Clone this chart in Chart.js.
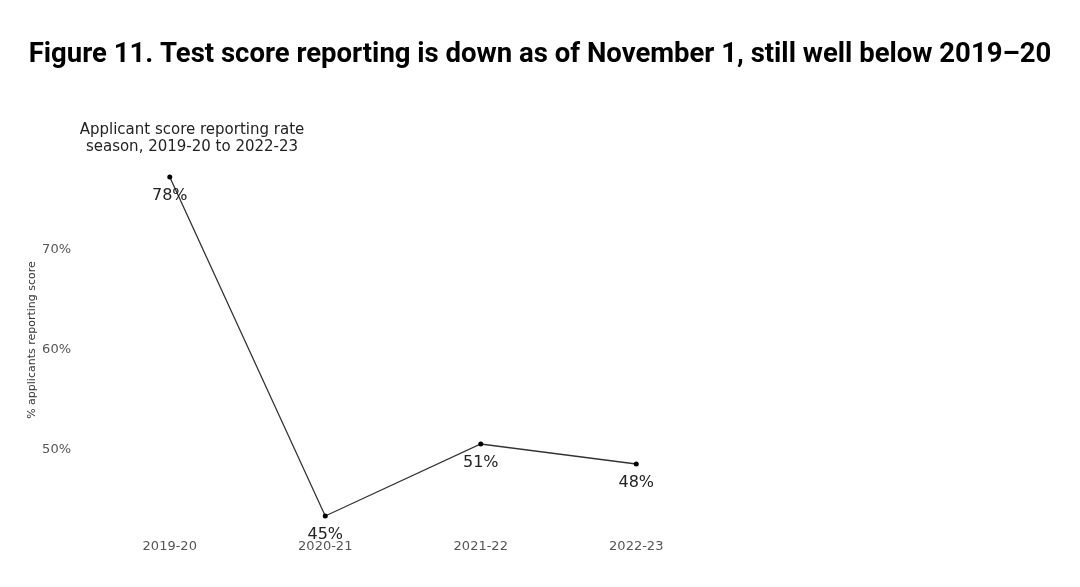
<!DOCTYPE html>
<html lang="en">
<head>
    <meta charset="UTF-8">
    <title>Figure 11</title>
    <script src="https://cdn.jsdelivr.net/npm/chart.js@4.4.0/dist/chart.umd.min.js"></script>
    <style>
        html, body { margin: 0; padding: 0; background: #fff; }
        .chart-container { position: relative; width: 1080px; height: 587px; }
    </style>
</head>
<body>
    <div class="chart-container">
        <canvas id="scoreChart" width="1080" height="587"></canvas>
    </div>

    <script>
        // Data
        const seasons = ['2019-20', '2020-21', '2021-22', '2022-23'];
        const reportingRate = [77.3, 43.4, 50.6, 48.6];
        const pointLabels = ['78%', '45%', '51%', '48%'];
        const yTicks = [50, 60, 70];

        const headline = 'Figure 11. Test score reporting is down as of November 1, still well below 2019\u201320';
        const subtitleLines = ['Applicant score reporting rate', 'season, 2019-20 to 2022-23'];

        // Headline, subtitle and point labels
        const annotate = {
            id: 'annotate',
            afterDraw(chart) {
                const ctx = chart.ctx;
                ctx.save();
                ctx.fillStyle = '#000';
                ctx.font = 'bold 27.5px Roboto';
                ctx.textAlign = 'center';
                ctx.textBaseline = 'middle';
                ctx.fillText(headline, 540, 55);

                ctx.fillStyle = '#222';
                ctx.font = '15px "DejaVu Sans"';
                subtitleLines.forEach((line, i) => ctx.fillText(line, 192, 130 + i * 17));

                const meta = chart.getDatasetMeta(0);
                ctx.font = '16px "DejaVu Sans"';
                meta.data.forEach((pt, i) => {
                    ctx.fillText(pointLabels[i], pt.x, pt.y + 19);
                });
                ctx.restore();
            }
        };

        const ctx = document.getElementById('scoreChart').getContext('2d');
        new Chart(ctx, {
            type: 'line',
            data: {
                labels: seasons,
                datasets: [{
                    data: reportingRate,
                    borderColor: '#333',
                    borderWidth: 1.3,
                    pointRadius: 2.5,
                    pointBackgroundColor: '#000',
                    pointBorderWidth: 0,
                    tension: 0
                }]
            },
            options: {
                responsive: false,
                animation: false,
                layout: { padding: { top: 150, left: 20, right: 366, bottom: 27 } },
                plugins: {
                    legend: { display: false },
                    tooltip: { enabled: false }
                },
                scales: {
                    x: {
                        offset: true,
                        grid: { display: false, drawTicks: false },
                        border: { display: false },
                        ticks: { color: '#555', font: { family: 'DejaVu Sans', size: 13 }, padding: 9, maxRotation: 0 },
                        afterFit: s => { s.height = 30; }
                    },
                    y: {
                        min: 42,
                        max: 80,
                        grid: { display: false, drawTicks: false },
                        border: { display: false },
                        afterBuildTicks: s => { s.ticks = yTicks.map(v => ({ value: v })); },
                        ticks: {
                            color: '#555',
                            font: { family: 'DejaVu Sans', size: 13 },
                            padding: 21,
                            callback: v => v + '%'
                        },
                        title: {
                            display: true,
                            text: '% applicants reporting score',
                            color: '#333',
                            font: { family: 'DejaVu Sans', size: 11 },
                            padding: { top: 6, bottom: 0 }
                        },
                        afterFit: s => { s.width = 72; }
                    }
                }
            },
            plugins: [annotate]
        });
    </script>
</body>
</html>
